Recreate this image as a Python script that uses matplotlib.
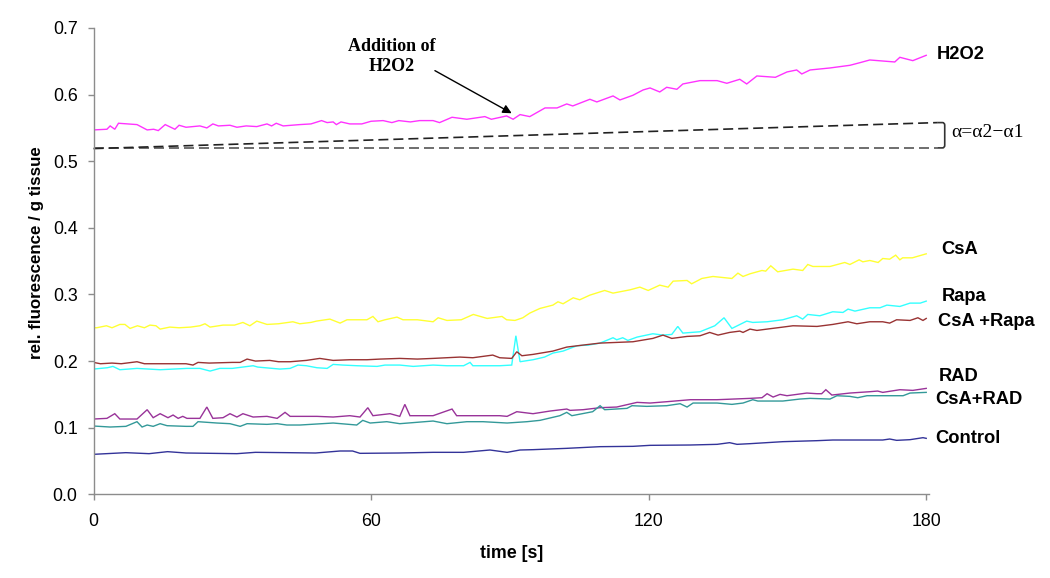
import matplotlib
matplotlib.use("Agg")
import matplotlib.pyplot as plt
from matplotlib.path import Path
from matplotlib.patches import PathPatch

# ---------------- data ----------------
h2o2_t = [0, 2.9, 3.6, 4.6, 5.4, 9.4, 11.6, 13.0, 14.0, 15.5, 17.6, 18.5, 20.0, 23.0, 24.5, 25.8, 27.0,
          29.5, 31.0, 33.0, 35.3, 37.5, 38.5, 39.5, 41.0, 44.6, 47.0, 49.3, 50.5, 51.8, 52.5, 53.5, 55.4,
          58.0, 60.0, 62.6, 64.5, 66.0, 68.5, 70.5, 73.4, 74.8, 77.5, 80.7, 84.6, 86.0, 89.3, 90.7, 92.2,
          94.3, 97.6, 100.2, 102.3, 103.6, 107.3, 108.8, 112.3, 113.8, 116.6, 118.8, 120.3, 122.4, 123.9,
          126.1, 127.4, 131.1, 134.8, 136.9, 139.7, 141.2, 143.4, 147.4, 149.9, 152.0, 153.1, 154.9, 159.2,
          163.5, 165.7, 167.8, 173.2, 174.3, 177.1, 180.0]
h2o2_v = [0.547, 0.548, 0.553, 0.548, 0.557, 0.555, 0.547, 0.548, 0.546, 0.555, 0.548, 0.554, 0.551, 0.553,
          0.550, 0.556, 0.553, 0.554, 0.551, 0.553, 0.552, 0.556, 0.553, 0.557, 0.553, 0.555, 0.556, 0.561,
          0.558, 0.559, 0.555, 0.559, 0.556, 0.556, 0.560, 0.561, 0.558, 0.561, 0.559, 0.561, 0.561, 0.558,
          0.566, 0.563, 0.567, 0.563, 0.568, 0.563, 0.570, 0.567, 0.580, 0.580, 0.586, 0.583, 0.593, 0.589,
          0.598, 0.592, 0.599, 0.607, 0.610, 0.604, 0.611, 0.608, 0.616, 0.621, 0.621, 0.617, 0.623, 0.616,
          0.628, 0.626, 0.634, 0.637, 0.631, 0.637, 0.640, 0.644, 0.648, 0.652, 0.649, 0.656, 0.651, 0.659]

csa_t = [0, 0.7, 2.8, 4.0, 5.7, 6.8, 7.9, 9.5, 11.0, 12.2, 13.5, 14.4, 16.5, 18.5, 21.0, 23.0, 24.1, 25.2,
         28.0, 30.5, 32.3, 33.8, 35.3, 37.5, 40.0, 43.1, 44.6, 47.0, 48.2, 51.1, 53.3, 54.8, 57.0, 59.1,
         60.4, 61.5, 63.0, 65.6, 66.9, 70.0, 73.4, 74.5, 76.4, 79.5, 82.1, 85.1, 88.3, 89.3, 91.1, 92.8,
         94.3, 96.5, 99.3, 100.4, 101.5, 103.7, 105.1, 107.3, 110.5, 112.3, 116.0, 118.1, 119.9, 122.4,
         124.2, 125.3, 128.3, 129.3, 131.5, 133.9, 138.0, 139.3, 140.4, 141.9, 144.5, 145.3, 146.4, 147.9,
         151.2, 153.3, 154.4, 155.5, 159.2, 162.4, 163.5, 165.5, 166.3, 167.8, 169.6, 170.6, 172.1, 173.4,
         174.3, 174.9, 177.0, 180.0]
csa_v = [0.250, 0.250, 0.253, 0.250, 0.255, 0.255, 0.249, 0.253, 0.250, 0.254, 0.253, 0.248, 0.251, 0.250,
         0.251, 0.253, 0.256, 0.251, 0.254, 0.254, 0.258, 0.253, 0.260, 0.255, 0.256, 0.259, 0.256, 0.258,
         0.260, 0.263, 0.257, 0.262, 0.262, 0.262, 0.267, 0.259, 0.262, 0.266, 0.262, 0.262, 0.259, 0.265,
         0.261, 0.262, 0.270, 0.264, 0.267, 0.262, 0.261, 0.265, 0.272, 0.279, 0.284, 0.289, 0.286, 0.295,
         0.292, 0.299, 0.306, 0.302, 0.307, 0.311, 0.306, 0.314, 0.311, 0.320, 0.321, 0.316, 0.324, 0.327,
         0.324, 0.332, 0.327, 0.331, 0.336, 0.335, 0.343, 0.334, 0.338, 0.336, 0.345, 0.342, 0.342, 0.348,
         0.345, 0.352, 0.349, 0.351, 0.348, 0.354, 0.353, 0.359, 0.352, 0.355, 0.355, 0.361]

rapa_t = [0, 3.0, 4.2, 5.7, 9.4, 14.4, 20.2, 23.0, 25.2, 27.3, 30.0, 34.5, 35.5, 40.3, 42.5, 44.2, 46.0,
          48.3, 50.5, 51.8, 53.9, 57.0, 61.3, 63.0, 66.2, 69.1, 73.4, 76.4, 80.0, 81.4, 82.0, 87.8, 90.4,
          91.3, 92.2, 95.0, 97.5, 99.3, 101.5, 104.5, 107.0, 109.5, 112.3, 113.1, 114.4, 115.5, 117.5,
          120.9, 123.1, 125.0, 126.3, 127.4, 131.1, 134.3, 136.3, 138.0, 141.2, 142.5, 145.6, 149.0, 152.0,
          153.3, 154.4, 157.0, 159.8, 162.0, 163.1, 164.6, 167.8, 170.0, 171.5, 174.3, 176.5, 178.7, 180.0]
rapa_v = [0.188, 0.190, 0.192, 0.187, 0.189, 0.187, 0.189, 0.189, 0.185, 0.189, 0.189, 0.193, 0.191, 0.188,
          0.189, 0.194, 0.193, 0.190, 0.189, 0.195, 0.194, 0.193, 0.192, 0.194, 0.194, 0.192, 0.194, 0.193,
          0.193, 0.198, 0.193, 0.193, 0.194, 0.238, 0.199, 0.202, 0.206, 0.212, 0.215, 0.223, 0.224, 0.227,
          0.235, 0.232, 0.235, 0.231, 0.236, 0.241, 0.239, 0.240, 0.252, 0.242, 0.244, 0.253, 0.265, 0.249,
          0.260, 0.258, 0.259, 0.262, 0.268, 0.263, 0.270, 0.268, 0.274, 0.273, 0.278, 0.275, 0.280, 0.280,
          0.284, 0.282, 0.287, 0.287, 0.290]

csarapa_t = [0, 1.5, 4.0, 6.0, 9.4, 11.0, 16.0, 20.0, 21.5, 22.6, 25.0, 30.0, 31.7, 33.2, 35.0, 38.1, 40.0,
             42.5, 46.0, 48.9, 51.8, 55.4, 59.1, 62.0, 66.2, 70.0, 73.4, 79.2, 82.0, 86.3, 87.8, 90.4, 91.5,
             92.6, 95.0, 99.3, 102.3, 105.8, 109.5, 116.6, 120.9, 123.1, 125.0, 128.3, 131.1, 133.2, 135.0,
             137.5, 139.7, 140.4, 141.9, 143.4, 145.6, 149.0, 151.2, 156.4, 159.8, 163.1, 165.0, 167.8,
             170.6, 172.1, 173.6, 176.5, 178.2, 179.3, 180.0]
csarapa_v = [0.198, 0.196, 0.197, 0.196, 0.199, 0.196, 0.196, 0.196, 0.194, 0.198, 0.197, 0.198, 0.198,
             0.203, 0.200, 0.201, 0.199, 0.199, 0.201, 0.204, 0.201, 0.202, 0.202, 0.203, 0.204, 0.203,
             0.204, 0.206, 0.205, 0.209, 0.205, 0.204, 0.214, 0.208, 0.210, 0.215, 0.221, 0.224, 0.227,
             0.229, 0.234, 0.239, 0.234, 0.237, 0.238, 0.243, 0.239, 0.243, 0.245, 0.243, 0.248, 0.246,
             0.248, 0.251, 0.253, 0.252, 0.255, 0.259, 0.256, 0.259, 0.259, 0.257, 0.262, 0.261, 0.265,
             0.261, 0.264]

rad_t = [0, 2.9, 4.6, 5.7, 9.4, 11.6, 12.9, 14.4, 16.1, 17.2, 18.3, 19.3, 20.2, 23.0, 24.5, 25.8, 28.0,
         29.5, 31.0, 32.3, 34.5, 37.5, 39.7, 41.4, 42.5, 48.3, 51.8, 55.4, 57.6, 59.3, 60.4, 64.1, 66.2,
         67.3, 68.4, 73.4, 77.5, 78.5, 87.8, 89.4, 91.5, 95.0, 98.7, 102.3, 103.0, 105.8, 109.5, 113.1,
         117.5, 120.3, 123.9, 129.0, 134.8, 141.9, 144.5, 145.6, 146.9, 148.4, 149.9, 154.2, 156.4, 157.4,
         158.3, 159.6, 163.5, 167.8, 169.5, 170.6, 174.3, 177.1, 180.0]
rad_v = [0.113, 0.114, 0.121, 0.113, 0.113, 0.127, 0.115, 0.121, 0.115, 0.119, 0.114, 0.117, 0.114, 0.114,
         0.131, 0.114, 0.115, 0.121, 0.116, 0.121, 0.116, 0.117, 0.114, 0.123, 0.117, 0.117, 0.116, 0.118,
         0.116, 0.130, 0.118, 0.121, 0.117, 0.135, 0.118, 0.118, 0.128, 0.118, 0.118, 0.117, 0.124, 0.121,
         0.125, 0.128, 0.126, 0.127, 0.130, 0.131, 0.138, 0.137, 0.139, 0.142, 0.142, 0.144, 0.145, 0.151,
         0.146, 0.150, 0.148, 0.152, 0.151, 0.151, 0.157, 0.149, 0.152, 0.154, 0.155, 0.153, 0.157, 0.156,
         0.159]

csarad_t = [0, 3.6, 7.0, 9.4, 10.5, 11.6, 12.9, 14.4, 15.9, 20.0, 21.5, 22.6, 26.7, 29.5, 31.7, 33.2, 37.5,
            39.7, 41.8, 44.6, 51.8, 56.9, 58.2, 59.8, 63.4, 66.2, 73.4, 76.4, 80.7, 84.2, 89.4, 93.7, 96.5,
            100.8, 102.3, 103.4, 107.9, 109.5, 110.5, 115.3, 116.4, 119.6, 123.9, 126.8, 128.3, 129.6,
            134.8, 138.0, 140.4, 142.5, 143.6, 149.0, 152.7, 154.9, 159.2, 160.7, 163.5, 165.2, 167.2,
            170.6, 175.0, 176.5, 180.0]
csarad_v = [0.1025, 0.101, 0.102, 0.109, 0.101, 0.104, 0.102, 0.106, 0.103, 0.102, 0.102, 0.109, 0.107,
            0.106, 0.102, 0.106, 0.105, 0.106, 0.104, 0.104, 0.107, 0.104, 0.111, 0.107, 0.109, 0.106,
            0.110, 0.106, 0.109, 0.109, 0.107, 0.109, 0.111, 0.118, 0.123, 0.118, 0.124, 0.133, 0.127,
            0.129, 0.133, 0.132, 0.133, 0.136, 0.131, 0.137, 0.137, 0.135, 0.137, 0.142, 0.140, 0.140,
            0.143, 0.144, 0.143, 0.148, 0.147, 0.145, 0.148, 0.148, 0.148, 0.152, 0.153]

control_t = [0, 7.0, 12.0, 16.0, 20.0, 31.0, 35.0, 42.0, 48.0, 53.3, 56.0, 57.6, 66.0, 73.4, 80.0, 85.7,
             89.4, 92.2, 95.0, 102.3, 109.5, 116.6, 120.3, 129.0, 134.8, 137.5, 139.1, 141.9, 149.0, 156.4,
             159.8, 170.6, 172.1, 173.6, 176.5, 179.3, 180.0]
control_v = [0.060, 0.0625, 0.061, 0.064, 0.062, 0.061, 0.063, 0.0625, 0.062, 0.065, 0.065, 0.0615, 0.062,
             0.063, 0.063, 0.0665, 0.063, 0.0665, 0.067, 0.069, 0.0715, 0.072, 0.0735, 0.074, 0.075,
             0.0775, 0.075, 0.076, 0.079, 0.0805, 0.0815, 0.0815, 0.083, 0.081, 0.082, 0.085, 0.084]

alpha_t = [0, 182.5]
alpha1_v = [0.520, 0.520]
alpha2_v = [0.519, 0.558]

series_names = ["H2O2", "CsA", "Rapa", "CsA +Rapa", "RAD", "CsA+RAD", "Control"]
series_t = [h2o2_t, csa_t, rapa_t, csarapa_t, rad_t, csarad_t, control_t]
series_v = [h2o2_v, csa_v, rapa_v, csarapa_v, rad_v, csarad_v, control_v]
series_colors = ["#FF33FF", "#FFFF33", "#33FFFF", "#993333", "#993399", "#339999", "#333399"]
label_pos = [(182.3, 0.6596), (183.3, 0.3668), (183.4, 0.2967), (182.5, 0.2592),
             (182.8, 0.1766), (182.0, 0.1426), (181.9, 0.0841)]

xticks = [0, 60, 120, 180]
yticks = [0.0, 0.1, 0.2, 0.3, 0.4, 0.5, 0.6, 0.7]

# ---------------- figure ----------------
W, H = 1050, 578
fig = plt.figure(figsize=(W / 100, H / 100), dpi=100)
ax = fig.add_axes([93.5 / W, 1 - 494.3 / H, 835.5 / W, 466.3 / H])
sans = ["Liberation Sans", "DejaVu Sans"]
serif = ["Liberation Serif", "DejaVu Serif"]

for t, v, c in zip(series_t, series_v, series_colors):
    ax.plot(t, v, color=c, lw=1.0, solid_joinstyle="miter")

ax.plot(alpha_t, alpha1_v, color="#555555", lw=1.2, ls=(0, (6, 3)), clip_on=False)
ax.plot(alpha_t, alpha2_v, color="#222222", lw=1.2, ls=(0, (6, 3)), clip_on=False)

# bracket
bx0, bx1 = 182.5, 184.0
verts = [(bx0, alpha2_v[1]), (bx1 - 0.5, alpha2_v[1]), (bx1, alpha2_v[1]), (bx1, alpha2_v[1] - 0.004),
         (bx1, alpha1_v[1] + 0.004), (bx1, alpha1_v[1]), (bx1 - 0.5, alpha1_v[1]), (bx0, alpha1_v[1])]
codes = [Path.MOVETO, Path.LINETO, Path.CURVE3, Path.CURVE3, Path.LINETO, Path.CURVE3, Path.CURVE3, Path.LINETO]
ax.add_patch(PathPatch(Path(verts, codes), fill=False, color="#333333", lw=1.2, clip_on=False))
ax.text(185.5, 0.5425, "α=α2−α1", fontsize=14, family=serif, ha="left", va="center", clip_on=False)

for name, (x, y) in zip(series_names, label_pos):
    ax.text(x, y, name, fontsize=13.2, fontweight="bold", family=sans, ha="left", va="center", clip_on=False)

# annotation
ax.annotate("", xy=(90.4, 0.572), xytext=(73.8, 0.636),
            arrowprops=dict(arrowstyle="-|>", color="black", lw=1.0, mutation_scale=13, shrinkA=0, shrinkB=0))
ax.text(64.4, 0.657, "Addition of\nH2O2", fontsize=13, fontweight="bold", family=serif,
        ha="center", va="center", linespacing=1.25)

ax.set_xlim(0, 180.6)
ax.set_ylim(0, 0.7)
ax.set_xticks(xticks)
ax.set_xticklabels([str(x) for x in xticks], family=sans, fontsize=12.8)
ax.set_yticks(yticks)
ax.set_yticklabels([f"{y:.1f}" for y in yticks], family=sans, fontsize=12.8)
for s in ["top", "right"]:
    ax.spines[s].set_visible(False)
for s in ["left", "bottom"]:
    ax.spines[s].set_color("#8c8c8c")
    ax.spines[s].set_linewidth(1.0)
ax.tick_params(axis="both", direction="out", length=4.5, width=1.0, color="#8c8c8c")
ax.tick_params(axis="x", pad=9)
ax.tick_params(axis="y", pad=7)

fig.text(37 / W, 1 - 253 / H, "rel. fluorescence / g tissue", rotation=90, ha="center", va="center",
         fontsize=12.2, fontweight="bold", family=sans)
fig.text(511.7 / W, 1 - 553 / H, "time [s]", ha="center", va="center",
         fontsize=12.8, fontweight="bold", family=sans)

fig.savefig("out.png", dpi=100)
